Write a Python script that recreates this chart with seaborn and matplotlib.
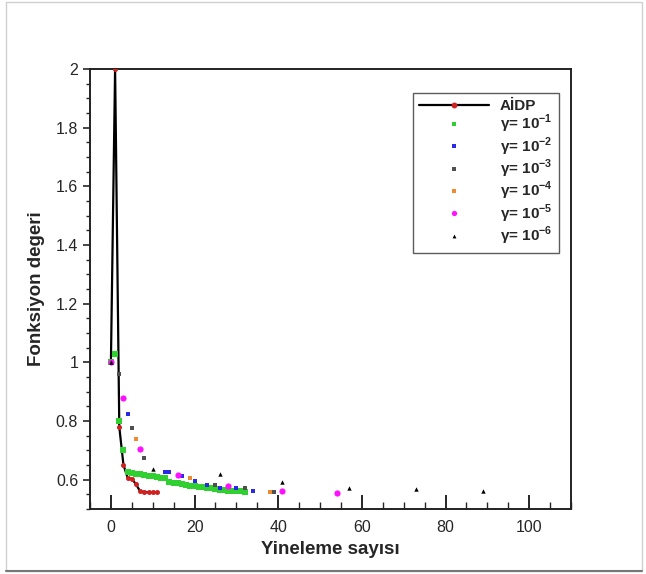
import numpy as np
import pandas as pd
import matplotlib
matplotlib.use('Agg')
import matplotlib.pyplot as plt
import matplotlib.patches as mpatches
from matplotlib.ticker import MultipleLocator
from matplotlib.lines import Line2D
import seaborn as sns

# AİDP (line + red markers)
aidp_x = [0, 1, 2, 3, 4, 5, 6, 7, 8, 9, 10, 11]
aidp_y = [1.0, 2.0, 0.78, 0.65, 0.607, 0.603, 0.584, 0.560, 0.558, 0.557, 0.557, 0.557]

# gamma = 1e-1 (dense green)
g1_x = list(range(0, 33))
g1_y = [1.0, 1.03, 0.80, 0.70, 0.625, 0.622, 0.620, 0.618, 0.616, 0.614, 0.612,
        0.610, 0.607, 0.604, 0.592, 0.590, 0.588, 0.585, 0.582, 0.580, 0.578,
        0.576, 0.574, 0.572, 0.570, 0.568, 0.566, 0.565, 0.563, 0.562, 0.561,
        0.560, 0.559]

# gamma = 1e-2 (blue)
g2_x = [0, 4, 13, 14, 17, 20, 23, 26, 30, 34]
g2_y = [1.0, 0.825, 0.626, 0.626, 0.612, 0.595, 0.582, 0.573, 0.570, 0.561]

# gamma = 1e-3 (gray)
g3_x = [0, 2, 5, 8, 25, 32, 39]
g3_y = [1.0, 0.96, 0.777, 0.673, 0.582, 0.570, 0.559]

# gamma = 1e-4 (orange)
g4_x = [0, 6, 19, 38]
g4_y = [1.0, 0.740, 0.607, 0.559]

# gamma = 1e-5 (magenta)
g5_x = [0, 3, 7, 16, 28, 41, 54]
g5_y = [1.0, 0.879, 0.705, 0.617, 0.577, 0.561, 0.556]

# gamma = 1e-6 (black triangles)
g6_x = [0, 10, 26, 41, 57, 73, 89]
g6_y = [1.0, 0.635, 0.618, 0.593, 0.573, 0.567, 0.561]

labels = ['AİDP'] + ['γ= 10$^{\\mathbf{-%d}}$' % k for k in range(1, 7)]

sns.set_style('ticks')
plt.rcParams['font.family'] = ['Liberation Sans', 'DejaVu Sans']
plt.rcParams['mathtext.fontset'] = 'custom'
plt.rcParams['mathtext.rm'] = 'Liberation Sans'
plt.rcParams['mathtext.bf'] = 'Liberation Sans:bold'

fig = plt.figure(figsize=(6.46, 5.74), dpi=100)
ax = fig.add_axes([90 / 646, 1 - 509 / 574, 481 / 646, 440 / 574])

series = [
    (g1_x, g1_y, '#2fd02f', 's', 13),
    (g2_x, g2_y, '#2a2ae6', 's', 9),
    (g3_x, g3_y, '#505050', 's', 7),
    (g4_x, g4_y, '#f08a30', 's', 8),
    (g5_x, g5_y, '#ff10ff', 'o', 20),
    (g6_x, g6_y, '#000000', '^', 10),
]

sns.lineplot(x=aidp_x, y=aidp_y, ax=ax, color='black', lw=1.6, zorder=3,
             marker='o', markersize=2.8, markerfacecolor='#d02020',
             markeredgecolor='#d02020')
for x, y, c, m, s in series:
    sns.scatterplot(x=x, y=y, ax=ax, color=c, marker=m, s=s, linewidth=0, zorder=4)

ax.set_xlim(-5, 110)
ax.set_ylim(0.5, 2.0)
ax.xaxis.set_major_locator(MultipleLocator(20))
ax.xaxis.set_minor_locator(MultipleLocator(5))
ax.yaxis.set_minor_locator(MultipleLocator(0.05))
ax.set_yticks([0.6, 0.8, 1.0, 1.2, 1.4, 1.6, 1.8, 2.0])
ax.set_yticklabels(['0.6', '0.8', '1', '1.2', '1.4', '1.6', '1.8', '2'])
ax.tick_params(axis='x', which='major', direction='in', length=10, width=1.4,
               labelsize=11.5, pad=8)
ax.tick_params(axis='x', which='minor', direction='in', length=5, width=1)
ax.tick_params(axis='y', which='major', direction='out', length=5, width=1.2,
               labelsize=11.5)
ax.tick_params(axis='y', which='minor', direction='out', length=3, width=1)
for sp in ax.spines.values():
    sp.set_linewidth(1.4)
    sp.set_color('#222222')

ax.set_xlabel('Yineleme sayısı', fontsize=13.5, fontweight='bold', labelpad=4)
ax.set_ylabel('Fonksiyon degeri', fontsize=13.5, fontweight='bold', labelpad=8)

handles = [Line2D([0], [0], color='black', lw=1.6, marker='o', markersize=3.2,
                  markerfacecolor='#d02020', markeredgecolor='#d02020')]
for x, y, c, m, s in series:
    handles.append(Line2D([0], [0], ls='none', marker=m, color=c,
                          markersize=max(np.sqrt(s) * 0.85, 2.8), markeredgewidth=0))
leg = ax.legend(handles, labels, loc='upper right',
                bbox_to_anchor=(559 / 646, 1 - 93 / 574),
                bbox_transform=fig.transFigure, frameon=True, fancybox=False,
                edgecolor='#333333', handlelength=4.6, handletextpad=0.7,
                labelspacing=0.0, borderpad=0.4, borderaxespad=0,
                prop={'weight': 'bold', 'size': 11})
leg.get_frame().set_linewidth(1.0)

# light frame around the picture
fig.patches.append(mpatches.Rectangle((6 / 646, 1 - 571 / 574), 636 / 646, 569 / 574,
                                      transform=fig.transFigure, fill=False,
                                      edgecolor='#d0d0d0', lw=1))
fig.lines.append(Line2D([6 / 646, 642 / 646], [1 - 571 / 574] * 2,
                        transform=fig.transFigure, color='#777777', lw=1.5))

fig.savefig('out.png', dpi=100)
